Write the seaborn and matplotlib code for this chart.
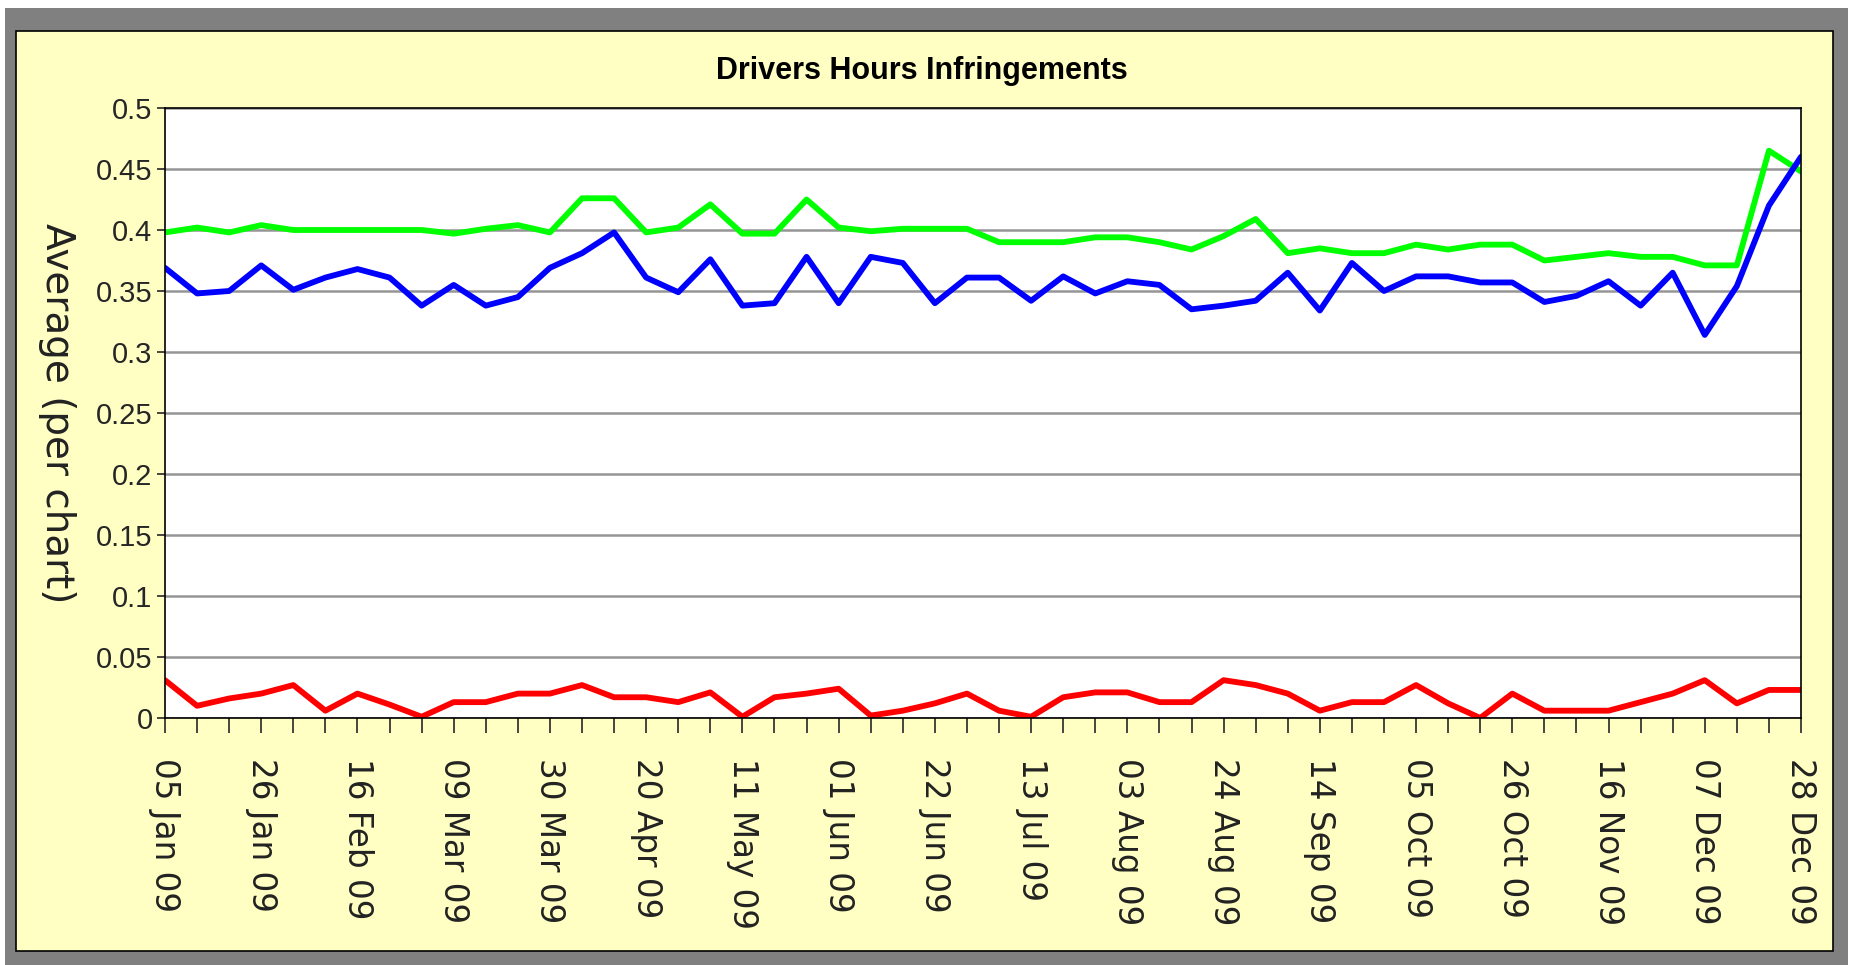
import numpy as np
import pandas as pd
import matplotlib
matplotlib.use('Agg')
import matplotlib.pyplot as plt
import seaborn as sns
from matplotlib.patches import Rectangle

# weekly data, 05 Jan 09 .. 28 Dec 09
weeks = pd.date_range('2009-01-05', periods=52, freq='7D')

green_vals = [0.398, 0.402, 0.398, 0.404, 0.400, 0.400, 0.400, 0.400, 0.400, 0.397,
              0.401, 0.404, 0.398, 0.426, 0.426, 0.398, 0.402, 0.421, 0.397, 0.397,
              0.425, 0.402, 0.399, 0.401, 0.401, 0.401, 0.390, 0.390, 0.390, 0.394,
              0.394, 0.390, 0.384, 0.395, 0.409, 0.381, 0.385, 0.381, 0.381, 0.388,
              0.384, 0.388, 0.388, 0.375, 0.378, 0.381, 0.378, 0.378, 0.371, 0.371,
              0.465, 0.448]
blue_vals = [0.369, 0.348, 0.350, 0.371, 0.351, 0.361, 0.368, 0.361, 0.338, 0.355,
             0.338, 0.345, 0.369, 0.381, 0.398, 0.361, 0.349, 0.376, 0.338, 0.340,
             0.378, 0.340, 0.378, 0.373, 0.340, 0.361, 0.361, 0.342, 0.362, 0.348,
             0.358, 0.355, 0.335, 0.338, 0.342, 0.365, 0.334, 0.373, 0.350, 0.362,
             0.362, 0.357, 0.357, 0.341, 0.346, 0.358, 0.338, 0.365, 0.314, 0.354,
             0.420, 0.460]
red_vals = [0.031, 0.010, 0.016, 0.020, 0.027, 0.006, 0.020, 0.011, 0.001, 0.013,
            0.013, 0.020, 0.020, 0.027, 0.017, 0.017, 0.013, 0.021, 0.001, 0.017,
            0.020, 0.024, 0.002, 0.006, 0.012, 0.020, 0.006, 0.001, 0.017, 0.021,
            0.021, 0.013, 0.013, 0.031, 0.027, 0.020, 0.006, 0.013, 0.013, 0.027,
            0.012, 0.000, 0.020, 0.006, 0.006, 0.006, 0.013, 0.020, 0.031, 0.012,
            0.023, 0.023]

series_names = ['green', 'blue', 'red']
colors = {'green': '#00FF00', 'blue': '#0000FF', 'red': '#FF0000'}

df = pd.DataFrame({
    'week': np.tile(weeks, 3),
    'value': green_vals + blue_vals + red_vals,
    'series': np.repeat(series_names, len(weeks)),
})

sns.set_style('ticks')
plt.rcParams['font.family'] = ['Liberation Sans', 'DejaVu Sans']

W, H = 1851, 965
fig = plt.figure(figsize=(W / 100, H / 100), dpi=100, facecolor='white')

# grey frame and pale yellow chart area
fig.add_artist(Rectangle((5 / W, 0), 1843 / W, 957 / H, transform=fig.transFigure,
                         facecolor='#808080', edgecolor='none', zorder=-3))
fig.add_artist(Rectangle((16 / W, 14 / H), 1817 / W, 920 / H, transform=fig.transFigure,
                         facecolor='#FFFFC4', edgecolor='black', lw=1.2, zorder=-2))

ax = fig.add_axes([165 / W, 1 - 718 / H, 1636 / W, 610 / H])
ax.set_facecolor('white')

sns.lineplot(data=df, x='week', y='value', hue='series', palette=colors,
             hue_order=series_names, lw=4.2, legend=False, ax=ax)

ax.set_xlim(weeks[0], weeks[-1])
ax.set_ylim(0, 0.5)

ax.set_xticks(weeks)
ax.set_xticklabels([d.strftime('%d %b %y') if i % 3 == 0 else '' for i, d in enumerate(weeks)],
                   family='DejaVu Sans', fontsize=23.5, rotation=270, color='#222222')
yt = np.round(np.arange(0, 0.51, 0.05), 2)
ax.set_yticks(yt)
ax.set_yticklabels([f'{v:g}' for v in yt], fontsize=21)

ax.tick_params(axis='x', length=11, width=1.2, direction='out', pad=18)
ax.tick_params(axis='y', length=6, width=1.2, direction='out', pad=3)

ax.yaxis.grid(True, color='#959595', lw=1.8)
ax.set_axisbelow(True)
for s in ax.spines.values():
    s.set_visible(True)
    s.set_color('black')
    s.set_linewidth(1.2)

ax.set_xlabel('')
ax.set_ylabel('')

fig.text(57 / W, 1 - 413 / H, 'Average (per chart)', rotation=270, ha='center', va='center',
         fontsize=28, family='DejaVu Sans', color='#222222')
fig.text(922 / W, 1 - 71 / H, 'Drivers Hours Infringements', ha='center', va='center',
         fontsize=22, fontweight='bold', color='black')

fig.savefig('out.png', dpi=100)
